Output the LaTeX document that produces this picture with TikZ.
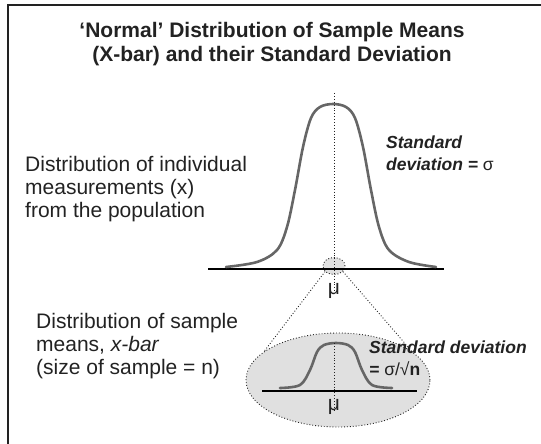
\documentclass[tikz,border=0pt]{standalone}
\usepackage{fontspec}
\setmainfont{Liberation Sans}
\usetikzlibrary{shapes.geometric}
\definecolor{inkdark}{HTML}{222222}
\definecolor{curvegray}{HTML}{666666}
\definecolor{lensgray}{HTML}{E0E0E0}

\begin{document}
\begin{tikzpicture}[x=1pt, y=-1pt,
  every node/.style={text=inkdark, inner sep=0pt},
  heading/.style = {font=\fontsize{21}{24}\selectfont\bfseries, align=center, anchor=base},
  body/.style    = {font=\fontsize{21}{23}\selectfont, align=left, anchor=base west},
  sdlabel/.style = {font=\fontsize{17.5}{21.5}\selectfont\bfseries\itshape, align=left, anchor=base west},
  mulabel/.style = {font=\fontsize{21}{21}\selectfont},
  curve/.style   = {draw=curvegray, line width=2.6pt, line cap=round, line join=round},
  axis/.style    = {draw=black, line width=2pt},
  guide/.style   = {draw=inkdark, dotted, line width=0.9pt},
  lens/.style    = {ellipse, draw=inkdark, dotted, line width=0.9pt, fill=lensgray, inner sep=0pt},
]
\useasboundingbox (0,0) rectangle (541,444);

% ---- frame (only top and left edges show)
\draw[draw=inkdark, line width=1.5pt] (542,5) -- (8,5) -- (8,445);

% ---- title (anchored on its last line)
\node[heading] (title) at (272,62)
  {‘Normal’ Distribution of Sample Means\\(X-bar) and their Standard Deviation};

% ---- population
\node[body] (poptext) at (25,217)
  {Distribution of individual\\measurements (x)\\from the population};
\node[lens, minimum width=22pt, minimum height=17pt] (spot) at (334,266) {};
\draw[axis] (208,269) -- (444,269);
\draw[curve] plot[smooth, tension=0.55] coordinates {(226,267) (257,262) (277,250) (287,227)
  (295,190) (303,147) (311,118) (320,107) (333,104) (346,107) (355,118) (363,147)
  (371,190) (379,227) (389,250) (409,262) (436,267)};
\coordinate (poptop) at (334,93);
\coordinate (popfoot) at (334,293);
\draw[guide] (poptop) -- (popfoot);
\node[mulabel, anchor=base] (popmu) at (334,294) {μ};
\node[sdlabel] (popsd) at (386,170)
  {Standard\\deviation = {\mdseries\upshape σ}};

% ---- sample means
\node[body] (sampletext) at (36,374)
  {Distribution of sample\\means, {\itshape x-bar}\\(size of sample = n)};
\node[lens, minimum width=184pt, minimum height=94pt] (lens) at (338,380) {};
\draw[guide] (spot.212) -- (lens.159);
\draw[guide] (spot.-32) -- (lens.21);
\draw[axis] (262,391) -- (417,391);
\draw[curve] plot[smooth, tension=0.55] coordinates {(280,388) (300,385) (310,370)
  (317,352) (324,345) (336,343) (348,345) (355,352) (362,370) (372,385) (392,388)};
\coordinate (samptop) at (334,343);
\coordinate (sampfoot) at (334,412);
\draw[guide] (samptop) -- (sampfoot);
\node[mulabel, anchor=base] (sampmu) at (334,410) {μ};
\node[sdlabel] (samplesd) at (369,375)
  {Standard deviation\\= {\mdseries\upshape σ/√}{\upshape n}};

\end{tikzpicture}
\end{document}
